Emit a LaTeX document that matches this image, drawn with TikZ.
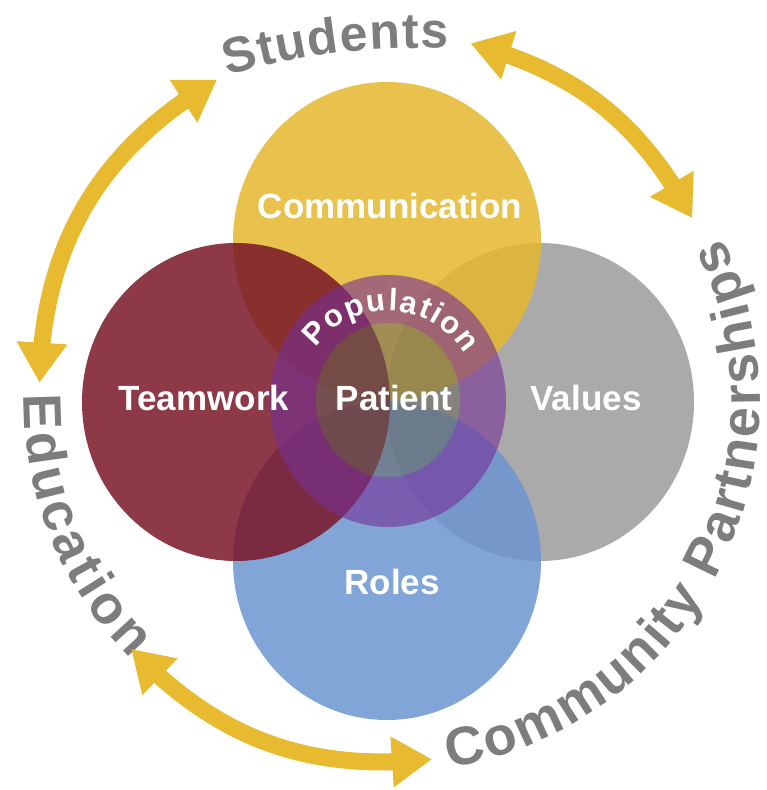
\documentclass[tikz,border=0pt]{standalone}
\usepackage{fontspec}
\setmainfont{Liberation Sans}
\usetikzlibrary{arrows.meta,bending,decorations.text,calc}
\definecolor{cyel}{RGB}{229,183,47}
\definecolor{cred}{RGB}{121,22,40}
\definecolor{cgray}{RGB}{155,155,155}
\definecolor{cblue}{RGB}{108,149,208}
\definecolor{cpurp}{RGB}{118,48,150}
\definecolor{cinner}{RGB}{100,100,90}
\definecolor{carrow}{RGB}{231,186,48}
\definecolor{ctext}{RGB}{125,125,125}
\begin{document}
\begin{tikzpicture}[x=1pt,y=1pt,
  venn/.style={fill opacity=0.85},
  lbl/.style={text=white,font=\bfseries\fontsize{35}{40}\selectfont,inner sep=0pt},
  dblarrow/.style={draw=carrow,line width=17pt,{Triangle[width=48pt,length=40pt,flex]}-{Triangle[width=48pt,length=40pt,flex]}},
  outertext/.style 2 args={decorate,decoration={text along path,text color=ctext,text align={fit to path},text={|\bfseries\fontsize{#1}{#1}\selectfont|#2}}},
]
\useasboundingbox (0,0) rectangle (767,790);
\coordinate (C) at (388,389);
% circles
\fill[cgray,venn] (540,388) ellipse [x radius=154,y radius=159];
\fill[cyel,venn] (387,549) ellipse [x radius=154,y radius=159];
\fill[cblue,venn] (387,229) ellipse [x radius=154,y radius=159];
\fill[cred,venn] (236,388) ellipse [x radius=154,y radius=159];
\fill[cpurp,fill opacity=0.6,even odd rule] (388,389) ellipse [x radius=118,y radius=126] (388,390) ellipse [x radius=72,y radius=77];
\fill[cinner,fill opacity=0.55] (388,390) ellipse [x radius=72,y radius=77];
% labels
\node[lbl] (comm) at (390,584) {Communication};
\node[lbl] (team) at (204,392) {Teamwork};
\node[lbl] (pat) at (394,392) {Patient};
\node[lbl] (val) at (586,392) {Values};
\node[lbl] (rol) at (392,208) {Roles};
\path[decorate,decoration={text along path,text color=white,text align={fit to path},text={|\bfseries\fontsize{31}{34}\selectfont|Population}}]
  (388,390) ++(144:89) arc[start angle=144,end angle=31,radius=89];
% outer texts
\path[outertext={50}{Students}] (415,90) ++(106.7:652) arc[start angle=106.7,end angle=87.1,radius=652];
\path[outertext={54}{Education}] (C) ++(179:364) arc[start angle=179,end angle=225,radius=364];
\path[outertext={54}{Community Partnerships}] (C) ++(-80.5:372) arc[start angle=-80.5,end angle=26,radius=372];
% arrows
\coordinate (a1s) at ($(C)+(118:364)$);
\coordinate (a1e) at ($(C)+(177:349)$);
\coordinate (a2s) at ($(C)+(77:367)$);
\coordinate (a2e) at ($(C)+(31:355)$);
\coordinate (a3s) at ($(C)+(224:357)$);
\coordinate (a3e) at ($(C)+(277:361)$);
\draw[dblarrow] (a1s) to[bend right=29] (a1e);
\draw[dblarrow] (a2s) to[bend left=23] (a2e);
\draw[dblarrow] (a3s) to[bend right=26] (a3e);
\end{tikzpicture}
\end{document}
